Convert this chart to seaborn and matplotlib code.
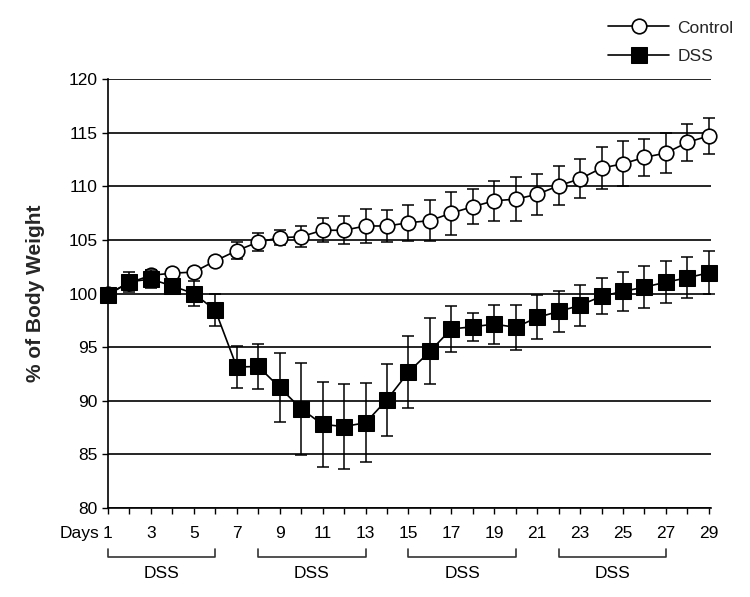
import numpy as np
import matplotlib
matplotlib.use("Agg")
import matplotlib.pyplot as plt
import seaborn as sns

sns.set_theme(style="white")
plt.rcParams['font.family'] = ['Liberation Sans', 'DejaVu Sans']

days = list(range(1, 30))

control = [100.0, 101.0, 101.7, 101.9, 102.0, 103.05, 104.0, 104.8, 105.2, 105.3,
           105.9, 105.9, 106.3, 106.3, 106.6, 106.8, 107.5, 108.1, 108.65, 108.8,
           109.25, 110.05, 110.7, 111.7, 112.1, 112.7, 113.1, 114.1, 114.7]
control_err = [0.0, 0.5, 0.45, 0.4, 0.4, 0.35, 0.78, 0.85, 0.7, 1.0,
               1.1, 1.3, 1.6, 1.5, 1.7, 1.9, 2.0, 1.65, 1.87, 2.07,
               1.9, 1.83, 1.8, 1.96, 2.1, 1.74, 1.87, 1.7, 1.66]

dss = [99.85, 101.1, 101.35, 100.7, 100.0, 98.45, 93.15, 93.2, 91.25, 89.25,
       87.8, 87.6, 87.95, 90.1, 92.67, 94.6, 96.7, 96.9, 97.15, 96.85,
       97.77, 98.33, 98.9, 99.75, 100.2, 100.6, 101.06, 101.47, 101.94]
dss_err = [0.3, 0.95, 0.85, 0.6, 1.15, 1.5, 1.95, 2.1, 3.2, 4.27,
           3.95, 3.96, 3.67, 3.34, 3.33, 3.08, 2.18, 1.3, 1.82, 2.1,
           2.05, 1.9, 1.94, 1.68, 1.79, 1.94, 1.97, 1.91, 2.02]

# DSS treatment periods (start day, end day)
dss_periods = [(1, 6), (8, 13), (15, 20), (22, 27)]

yticks = [80, 85, 90, 95, 100, 105, 110, 115, 120]

fig = plt.figure(figsize=(7.5, 5.97), dpi=100)
ax = fig.add_axes([0.144, 0.149, 0.804, 0.7186])

ax.errorbar(days, control, yerr=control_err, fmt='none', ecolor='black',
            elinewidth=1.1, capsize=4, capthick=1.1, zorder=3, clip_on=False)
ax.errorbar(days, dss, yerr=dss_err, fmt='none', ecolor='black',
            elinewidth=1.1, capsize=4, capthick=1.1, zorder=5, clip_on=False)

sns.lineplot(x=days, y=control, ax=ax, color='black', lw=1.2, marker='o',
             markersize=10.5, markerfacecolor='white', markeredgecolor='black',
             markeredgewidth=1.2, label='Control', zorder=4, clip_on=False)
sns.lineplot(x=days, y=dss, ax=ax, color='black', lw=1.2, marker='s',
             markersize=11, markerfacecolor='black', markeredgecolor='black',
             label='DSS', zorder=6, clip_on=False)

ax.set_xlim(1, 29.1)
ax.set_ylim(80, 120)
ax.set_yticks(yticks)
ax.set_yticklabels([str(v) for v in yticks], fontsize=12.5)
ax.set_xticks(days)
ax.set_xticklabels([str(d) if d % 2 == 1 else '' for d in days], fontsize=12.5)
ax.tick_params(axis='both', direction='out', length=4, width=1, color='black',
               bottom=True, left=True, labelcolor='black')
ax.tick_params(axis='x', pad=9)
ax.annotate('Days', xy=(1, 0), xycoords=('data', 'axes fraction'),
            xytext=(-6, -13), textcoords='offset points', ha='right', va='top',
            fontsize=12.5, color='black')

ax.yaxis.grid(True, color='black', lw=1.2)
ax.xaxis.grid(False)
for s in ['top', 'right']:
    ax.spines[s].set_visible(False)
for s in ['left', 'bottom']:
    ax.spines[s].set_color('black')
    ax.spines[s].set_linewidth(1.2)

ax.set_ylabel('% of Body Weight', fontsize=15, fontweight='bold', labelpad=17)

# DSS brackets under the axis
trans = ax.get_xaxis_transform()
for start, end in dss_periods:
    ax.plot([start, start, end, end], [-0.096, -0.114, -0.114, -0.096],
            color='#333333', lw=1.2, transform=trans, clip_on=False)
    ax.text((start + end) / 2, -0.152, 'DSS', transform=trans, ha='center',
            va='center', fontsize=12.5, color='black')

ax.legend_.remove()
handles, labels = ax.get_legend_handles_labels()
fig.legend(handles, labels, loc='upper left', bbox_to_anchor=(0.79, 0.992),
           frameon=False, fontsize=12.5, handlelength=3.5, labelspacing=0.78,
           handletextpad=0.5)

fig.savefig('out.png', dpi=100, facecolor='white')
